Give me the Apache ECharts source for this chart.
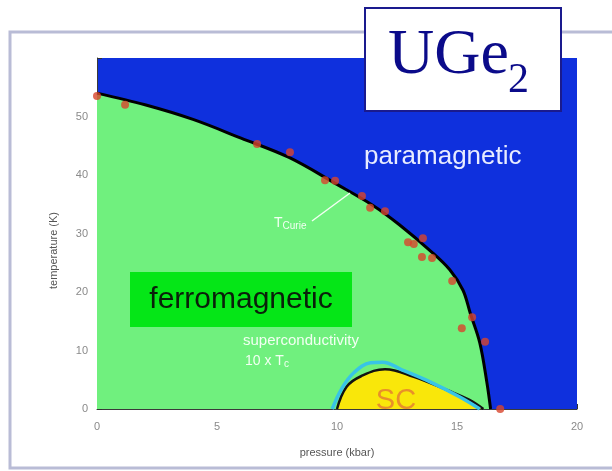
<!DOCTYPE html>
<html>
<head>
<meta charset="utf-8">
<script src="https://cdn.jsdelivr.net/npm/echarts@6/dist/echarts.min.js"></script>
<style>
  html, body { margin: 0; padding: 0; background: #ffffff; }
  #chart { width: 612px; height: 471px; }
</style>
</head>
<body>
<div id="chart"></div>
<script>
// Curie line T_Curie(p): ferromagnetic / paramagnetic boundary
const curieP = [0, 2, 4, 6, 8, 10, 11.5, 12.6, 13.9, 14.7, 15.25, 15.55, 15.95, 16.25, 16.4];
const curieT = [54, 52, 49.5, 46.3, 43, 38.4, 34.8, 31.5, 27, 23.8, 20.3, 16.4, 11.3, 4.4, 0];

// measured Curie temperatures
const measP = [0, 1.17, 6.67, 8.04, 9.5, 9.92, 11.04, 11.38, 12.0, 12.96, 13.2, 13.58, 13.54, 13.96, 14.8, 15.2, 15.63, 16.17, 16.8];
const measT = [53.5, 52.0, 45.3, 43.9, 39.1, 39.0, 36.4, 34.4, 33.8, 28.5, 28.2, 29.2, 26.0, 25.8, 21.9, 13.8, 15.7, 11.5, 0];

// superconducting dome (10 x Tsc)
const scP = [10.0, 10.4, 11.0, 12.0, 13.2, 14.6, 15.5, 16.1];
const scT = [0, 3.8, 5.6, 6.8, 5.5, 3.2, 1.6, 0];

// superconducting onset (10 x Tsc)
const onsetP = [9.8, 10.2, 10.7, 11.4, 11.9, 12.7, 13.9, 15.1, 15.95];
const onsetT = [0, 3.5, 6.2, 7.9, 8.0, 6.7, 4.6, 2.1, 0];

// axis ticks
const xTicks = [0, 5, 10, 15, 20];
const yTicks = [0, 10, 20, 30, 40, 50];

const zip = (a, b) => a.map((v, i) => [v, b[i]]);

const BLUE = '#0f30dd';
const GREEN = '#70f07e';
const BRIGHT = '#05e617';
const YELLOW = '#f9e70a';
const NAVY = '#0b0b8a';

const chart = echarts.init(document.getElementById('chart'), null, { renderer: 'canvas' });

chart.setOption({
  animation: false,
  backgroundColor: '#ffffff',
  grid: {
    left: 97, right: 35, top: 58, bottom: 62,
    show: true, backgroundColor: BLUE, borderWidth: 0
  },
  xAxis: {
    type: 'value', min: xTicks[0], max: xTicks[xTicks.length - 1], interval: 5,
    name: 'pressure (kbar)', nameLocation: 'middle', nameGap: 38,
    nameTextStyle: { color: '#555', fontSize: 11, fontFamily: 'Liberation Sans' },
    axisLine: { show: true, lineStyle: { color: '#3a3a3a', width: 1 } },
    axisTick: { show: true, inside: true, length: 5, lineStyle: { color: '#333' } },
    axisLabel: { color: '#8a8a8a', fontSize: 11, margin: 12, fontFamily: 'Liberation Sans' },
    splitLine: { show: false }
  },
  yAxis: {
    type: 'value', min: yTicks[0], max: 60, interval: 10,
    name: 'temperature (K)', nameLocation: 'middle', nameGap: 38, nameRotate: 90,
    nameTextStyle: { color: '#555', fontSize: 11, fontFamily: 'Liberation Sans', padding: [0, 0, 0, -34] },
    axisLine: { show: true, lineStyle: { color: '#3a3a3a', width: 1 } },
    axisTick: { show: true, inside: true, length: 5, lineStyle: { color: '#333' } },
    axisLabel: {
      color: '#8a8a8a', fontSize: 11, margin: 9, fontFamily: 'Liberation Sans',
      formatter: v => (yTicks.indexOf(v) >= 0 ? String(v) : '')
    },
    splitLine: { show: false }
  },
  series: [
    {
      name: 'ferromagnetic', type: 'line', data: zip(curieP, curieT),
      smooth: 0.35, showSymbol: false, z: 2,
      lineStyle: { color: '#000', width: 3 },
      areaStyle: { color: GREEN, opacity: 1, origin: 'start' }
    },
    {
      name: 'SC', type: 'line', data: zip(scP, scT),
      smooth: 0.4, showSymbol: false, z: 3,
      lineStyle: { color: '#111', width: 2.5 },
      areaStyle: { color: YELLOW, opacity: 1, origin: 'start' }
    },
    {
      name: 'onset', type: 'line', data: zip(onsetP, onsetT),
      smooth: 0.4, showSymbol: false, z: 4,
      lineStyle: { color: '#38c4e6', width: 3.5 }
    },
    {
      name: 'Curie data', type: 'scatter', data: zip(measP, measT),
      symbol: 'circle', symbolSize: 8, z: 5,
      itemStyle: { color: '#d8452c' }
    }
  ],
  graphic: [
    // figure frame
    { type: 'rect', shape: { x: 10, y: 32, width: 640, height: 436 }, z: 0,
      style: { fill: 'none', stroke: '#b9bcd6', lineWidth: 3 } },
    // phase labels
    { type: 'text', x: 364, y: 157, z: 10,
      style: { text: 'paramagnetic', fill: '#e8ecff', font: '26px "Liberation Sans"', textVerticalAlign: 'middle' } },
    { type: 'rect', shape: { x: 130, y: 272, width: 222, height: 55 }, z: 10,
      style: { fill: BRIGHT } },
    { type: 'text', x: 241, y: 300, z: 11,
      style: { text: 'ferromagnetic', fill: '#0a200a', font: '30px "Liberation Sans"', textAlign: 'center', textVerticalAlign: 'middle' } },
    { type: 'text', x: 396, y: 401, z: 11,
      style: { text: 'SC', fill: '#e8902a', font: '29px "Liberation Sans"', textAlign: 'center', textVerticalAlign: 'middle' } },
    // T_Curie pointer
    { type: 'line', shape: { x1: 312, y1: 221, x2: 350, y2: 193 }, z: 11,
      style: { stroke: '#f2fff2', lineWidth: 1.5 } },
    { type: 'text', x: 274, y: 223, z: 11,
      style: {
        text: '{a|T}{b|Curie}', fill: '#f2fff2', textVerticalAlign: 'middle',
        rich: { a: { fontSize: 14, fontFamily: 'Liberation Sans', fill: '#f2fff2' },
                b: { fontSize: 10, fontFamily: 'Liberation Sans', fill: '#f2fff2', padding: [6, 0, 0, 0] } }
      } },
    { type: 'text', x: 243, y: 341, z: 11,
      style: { text: 'superconductivity', fill: '#f2fff2', font: '15px "Liberation Sans"', textVerticalAlign: 'middle' } },
    { type: 'text', x: 245, y: 361, z: 11,
      style: {
        text: '{a|10 x T}{b|c}', textVerticalAlign: 'middle',
        rich: { a: { fontSize: 14, fontFamily: 'Liberation Sans', fill: '#f2fff2' },
                b: { fontSize: 10, fontFamily: 'Liberation Sans', fill: '#f2fff2', padding: [6, 0, 0, 0] } }
      } },
    // compound label
    { type: 'rect', shape: { x: 365, y: 8, width: 196, height: 103 }, z: 20,
      style: { fill: '#ffffff', stroke: '#1a1a8e', lineWidth: 2 } },
    { type: 'text', x: 388, y: 88, z: 21,
      style: { text: 'UGe', fill: NAVY, font: '64px "Liberation Serif"', textVerticalAlign: 'bottom' } },
    { type: 'text', x: 508, y: 102, z: 21,
      style: { text: '2', fill: NAVY, font: '42px "Liberation Serif"', textVerticalAlign: 'bottom' } }
  ]
});
</script>
</body>
</html>
